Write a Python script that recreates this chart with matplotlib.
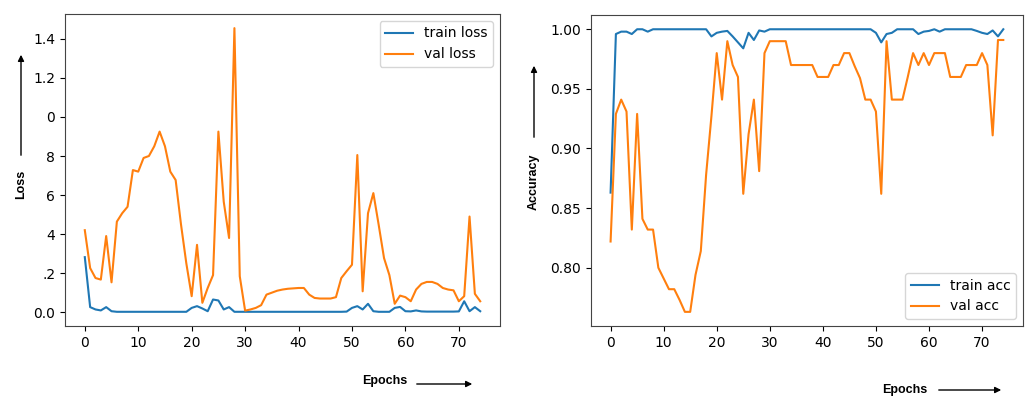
import numpy as np
import matplotlib
matplotlib.use('Agg')
import matplotlib.pyplot as plt

# epochs 0..74
epochs = np.arange(75)

train_loss = [0.282, 0.026, 0.014, 0.009, 0.026, 0.005, 0.002, 0.002, 0.002, 0.002,
              0.002, 0.002, 0.002, 0.002, 0.002, 0.002, 0.002, 0.002, 0.002, 0.002,
              0.022, 0.031, 0.019, 0.005, 0.065, 0.060, 0.014, 0.026, 0.002, 0.002,
              0.002, 0.002, 0.002, 0.002, 0.002, 0.002, 0.002, 0.002, 0.002, 0.002,
              0.002, 0.002, 0.002, 0.002, 0.002, 0.002, 0.002, 0.002, 0.002, 0.003,
              0.022, 0.031, 0.014, 0.043, 0.005, 0.002, 0.002, 0.002, 0.022, 0.027,
              0.005, 0.004, 0.009, 0.004, 0.003, 0.003, 0.003, 0.003, 0.003, 0.003,
              0.004, 0.056, 0.005, 0.026, 0.005]
val_loss = [0.42, 0.226, 0.175, 0.167, 0.39, 0.153, 0.464, 0.507, 0.54, 0.728,
            0.72, 0.79, 0.80, 0.85, 0.925, 0.85, 0.72, 0.677, 0.45, 0.25,
            0.082, 0.345, 0.048, 0.124, 0.19, 0.925, 0.566, 0.38, 1.455, 0.184,
            0.008, 0.014, 0.022, 0.036, 0.09, 0.10, 0.11, 0.116, 0.12, 0.122,
            0.124, 0.124, 0.09, 0.073, 0.07, 0.07, 0.07, 0.077, 0.175, 0.21,
            0.243, 0.805, 0.107, 0.507, 0.61, 0.447, 0.277, 0.19, 0.043, 0.085,
            0.077, 0.056, 0.116, 0.145, 0.155, 0.155, 0.145, 0.124, 0.116, 0.112,
            0.056, 0.082, 0.49, 0.094, 0.056]

train_acc = [0.863, 0.996, 0.998, 0.998, 0.996, 1.0, 1.0, 0.998, 1.0, 1.0,
             1.0, 1.0, 1.0, 1.0, 1.0, 1.0, 1.0, 1.0, 1.0, 0.994,
             0.997, 0.998, 0.9986, 0.994, 0.989, 0.984, 0.997, 0.991, 0.999, 0.998,
             1.0, 1.0, 1.0, 1.0, 1.0, 1.0, 1.0, 1.0, 1.0, 1.0,
             1.0, 1.0, 1.0, 1.0, 1.0, 1.0, 1.0, 1.0, 1.0, 1.0,
             0.997, 0.989, 0.996, 0.997, 1.0, 1.0, 1.0, 1.0, 0.996, 0.998,
             0.9986, 1.0, 0.998, 1.0, 1.0, 1.0, 1.0, 1.0, 1.0, 0.9986,
             0.997, 0.996, 0.999, 0.994, 1.0]
val_acc = [0.822, 0.929, 0.941, 0.931, 0.832, 0.929, 0.841, 0.832, 0.832, 0.80,
           0.791, 0.782, 0.782, 0.773, 0.763, 0.763, 0.794, 0.814, 0.878, 0.927,
           0.98, 0.941, 0.99, 0.97, 0.96, 0.862, 0.912, 0.941, 0.881, 0.98,
           0.99, 0.99, 0.99, 0.99, 0.97, 0.97, 0.97, 0.97, 0.97, 0.96,
           0.96, 0.96, 0.97, 0.97, 0.98, 0.98, 0.969, 0.959, 0.941, 0.941,
           0.931, 0.862, 0.99, 0.941, 0.941, 0.941, 0.96, 0.98, 0.97, 0.98,
           0.97, 0.98, 0.98, 0.98, 0.96, 0.96, 0.96, 0.97, 0.97, 0.97,
           0.98, 0.97, 0.911, 0.991, 0.991]

loss_ticks = [0.0, 0.2, 0.4, 0.6, 0.8, 1.0, 1.2, 1.4]
loss_ticklabels = ['0.0', '.2', '4', '6', '8', '0', '1.2', '1.4']

fig = plt.figure(figsize=(10.29, 3.96), dpi=100)

# 왼쪽: loss
ax1 = fig.add_axes([0.0632, 0.1768, 0.4227, 0.788])
ax1.plot(epochs, train_loss, label='train loss')
ax1.plot(epochs, val_loss, label='val loss')
ax1.set_yticks(loss_ticks)
ax1.set_yticklabels(loss_ticklabels)
ax1.legend(loc='upper right', fontsize=10)

# 오른쪽: accuracy
ax2 = fig.add_axes([0.5743, 0.1768, 0.4198, 0.785])
ax2.plot(epochs, train_acc, label='train acc')
ax2.plot(epochs, val_acc, label='val acc')
ax2.legend(loc='lower right', fontsize=10)

for ax in (ax1, ax2):
    ax.tick_params(labelsize=10)
    for s in ax.spines.values():
        s.set_color('#444444')

lbl = dict(fontsize=9, fontweight='bold', family=['Liberation Sans Narrow', 'Liberation Sans', 'DejaVu Sans'])
arr = dict(arrowstyle='-|>', color='black', lw=1.0, mutation_scale=9)
W, H = 1029.0, 396.0

def fp(x, y):
    return (x / W, 1 - y / H)

# y 라벨 + 화살표
fig.text(*fp(21, 184), 'Loss', rotation=90, ha='center', va='center', **lbl)
fig.add_artist(matplotlib.patches.FancyArrowPatch(fp(21, 158), fp(21, 52),
               transform=fig.transFigure, **arr))
fig.text(*fp(534, 182), 'Accuracy', rotation=90, ha='center', va='center', **lbl)
fig.add_artist(matplotlib.patches.FancyArrowPatch(fp(534, 140), fp(534, 63),
               transform=fig.transFigure, **arr))

# x 라벨 + 화살표
fig.text(*fp(385, 381), 'Epochs', ha='center', va='center', **lbl)
fig.add_artist(matplotlib.patches.FancyArrowPatch(fp(414, 384), fp(475, 384),
               transform=fig.transFigure, **arr))
fig.text(*fp(905, 390), 'Epochs', ha='center', va='center', **lbl)
fig.add_artist(matplotlib.patches.FancyArrowPatch(fp(936, 390), fp(1004, 390),
               transform=fig.transFigure, **arr))

fig.savefig('out.png', dpi=100)
